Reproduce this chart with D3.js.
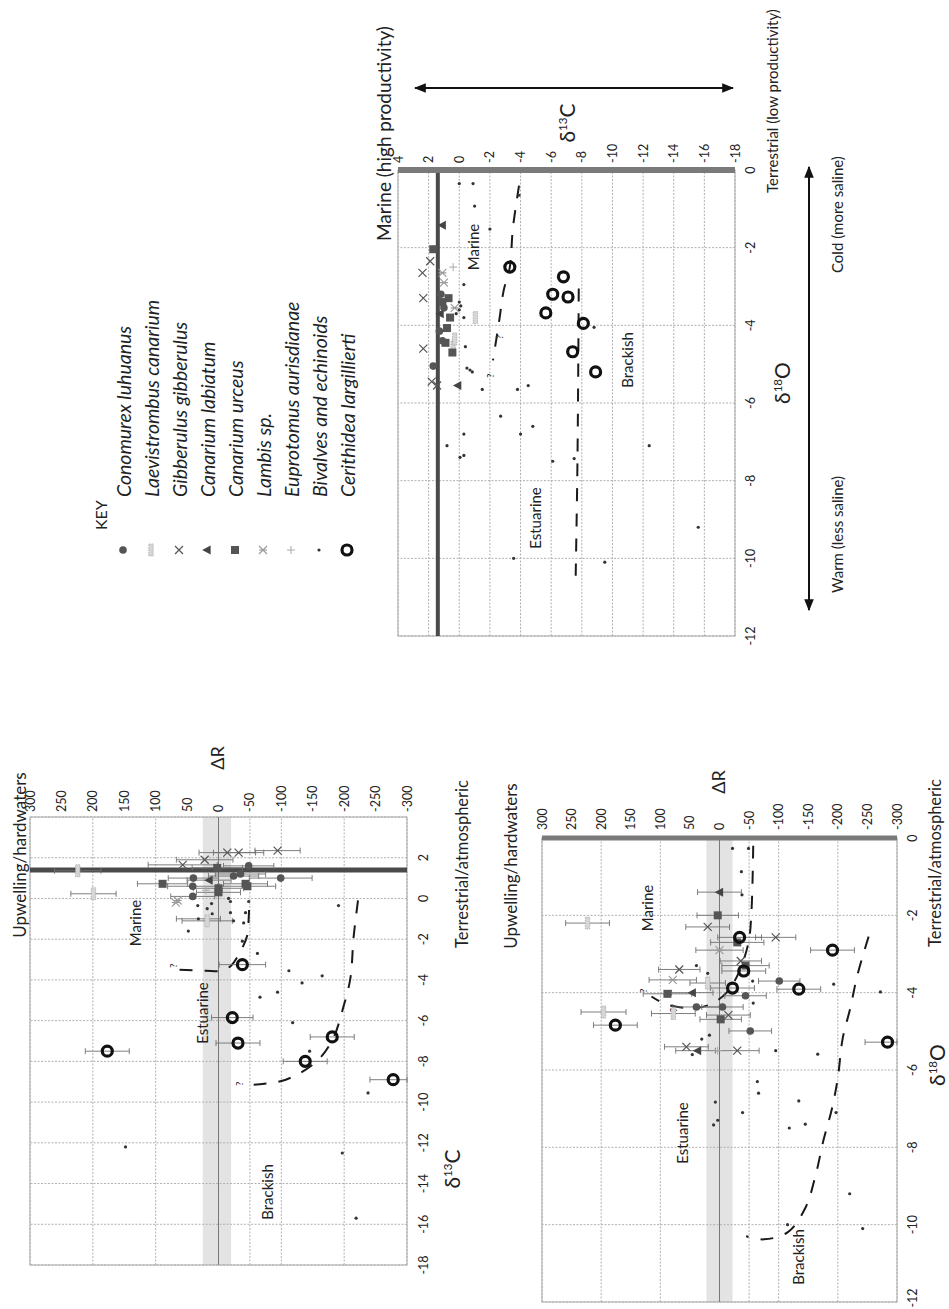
<!DOCTYPE html>
<html>
<head>
<meta charset="utf-8">
<script src="https://cdn.jsdelivr.net/npm/d3@7"></script>
<style>
  body { margin: 0; background: #fff; }
  text { font-family: Lato, "Open Sans", sans-serif; fill: #222; }
</style>
</head>
<body>
<svg id="fig" width="949" height="1309"></svg>
<script>
// ---- data ----
const speciesKeys = ["con", "lae", "gib", "lab", "urc", "lam", "eup", "biv", "cer"];
const speciesNames = ["Conomurex luhuanus", "Laevistrombus canarium", "Gibberulus gibberulus",
  "Canarium labiatum", "Canarium urceus", "Lambis sp.", "Euprotomus aurisdianae",
  "Bivalves and echinoids", "Cerithidea largillierti"];

const dRTicks = [300, 250, 200, 150, 100, 50, 0, -50, -100, -150, -200, -250, -300];
const dRGrid = [300, 200, 100, 0, -50, -100, -200, -300];
const d13CTicks = [4, 2, 0, -2, -4, -6, -8, -10, -12, -14, -16, -18];
const d18OTicks = [0, -2, -4, -6, -8, -10, -12];

// panel A: [species, d13C, dR, error]
const carbonDR = [
  ["gib", 2.25, -14, 45], ["gib", 2.25, -32, 40], ["gib", 2.35, -94, 36], ["gib", 1.9, 22, 45],
  ["gib", 1.65, 57, 55], ["con", 1.6, -48, 40], ["urc", 1.5, 2, 40], ["con", 1.0, -99, 50],
  ["urc", 0.72, 89, 40], ["urc", 0.72, -43, 35], ["con", 1.0, 40, 40], ["con", 0.6, 41, 40],
  ["con", 0.1, 41, 35], ["urc", 0.5, 0, 40], ["urc", 0.3, 0, 35], ["con", 1.2, -35, 40],
  ["con", 1.1, -24, 40], ["urc", 0.6, -46, 45], ["lab", 0.9, 15, 35], ["lam", -0.1, 65, 0],
  ["lam", -0.2, 68, 0], ["lae", 1.36, 224, 37], ["lae", 0.23, 199, 36], ["lae", -1.1, 18, 40],
  ["eup", 0.4, 20, 0],
  ["biv", -0.35, 33, 0], ["biv", -0.5, 18, 0], ["biv", -0.25, 11, 0], ["biv", 0.0, -16, 0],
  ["biv", -0.15, -19, 0], ["biv", -0.15, -48, 0], ["biv", -0.75, 10, 0], ["biv", -0.7, -19, 0],
  ["biv", -0.7, -43, 0], ["biv", -1.1, -24, 0], ["biv", -1.2, -40, 0], ["biv", -1.0, 32, 35],
  ["biv", -1.6, 48, 0], ["biv", -2.1, -38, 0], ["biv", -2.7, -62, 0], ["biv", -3.55, -112, 0],
  ["biv", -4.15, -133, 0], ["biv", -3.8, -165, 0], ["biv", -4.6, -94, 0], ["biv", -4.85, -66, 0],
  ["biv", -0.35, -191, 0], ["biv", -6.1, -118, 0], ["biv", -7.5, -145, 0], ["biv", -9.55, -238, 0],
  ["biv", -12.5, -197, 0], ["biv", -15.7, -219, 0], ["biv", -12.2, 148, 0],
  ["cer", -3.25, -38, 37], ["cer", -5.85, -22, 33], ["cer", -7.1, -31, 35], ["cer", -7.5, 177, 35],
  ["cer", -6.8, -181, 35], ["cer", -8.0, -138, 35], ["cer", -8.9, -278, 37]
];
const carbonMarineLine = [[-3.5, 62], [-3.55, 20], [-3.55, -5], [-3.3, -20], [-2.6, -35], [-1.8, -46], [-1.0, -48], [-0.2, -49]];
const carbonBrackishLine = [[-0.1, -222], [-1.9, -215], [-3.9, -210], [-5.3, -199], [-6.9, -182], [-8.0, -156], [-8.9, -107], [-9.15, -56]];
const carbonQueries = [[-3.3, 73], [-9.1, -32]];

// panel B: [species, d18O, dR, error]
const oxygenDR = [
  ["lab", -1.4, 0, 37], ["urc", -2.0, 3, 35], ["gib", -2.3, 20, 37], ["cer", -2.57, -34, 37],
  ["gib", -2.57, -95, 34], ["cer", -2.9, -191, 37], ["gib", -3.18, -36, 35], ["urc", -3.3, -44, 40],
  ["cer", -3.44, -41, 37], ["con", -3.7, -101, 35], ["cer", -3.91, -134, 37], ["cer", -3.88, -22, 37],
  ["urc", -4.03, 88, 41], ["lab", -4.0, 46, 35], ["gib", -3.4, 68, 35], ["lae", -2.2, 223, 37],
  ["lam", -3.67, 79, 40], ["lae", -3.75, 20, 30], ["lam", -2.9, 0, 40], ["urc", -2.7, -30, 45],
  ["con", -4.08, -44, 35], ["con", -4.37, 39, 40], ["con", -4.37, -5, 35], ["lae", -4.5, 196, 38],
  ["cer", -4.84, 176, 37], ["lae", -4.54, 78, 37], ["urc", -4.69, -2, 35], ["gib", -4.58, -15, 37],
  ["con", -4.99, -52, 36], ["gib", -5.4, 56, 37], ["lab", -5.5, 37, 37], ["gib", -5.5, -30, 37],
  ["eup", -5.5, 3, 0], ["cer", -5.28, -284, 38],
  ["biv", -0.27, -22, 0], ["biv", -0.27, -49, 0], ["biv", -0.87, -37, 0], ["biv", -1.47, -38, 0],
  ["biv", -3.78, -193, 0], ["biv", -3.98, -272, 0], ["biv", -3.3, 39, 0], ["biv", -3.5, 20, 0],
  ["biv", -3.7, -56, 0], ["biv", -4.27, -57, 0], ["biv", -5.2, 30, 0], ["biv", -5.1, 17, 0],
  ["biv", -5.6, 46, 0], ["biv", -5.5, -95, 0], ["biv", -5.59, -166, 0], ["biv", -6.3, -64, 0],
  ["biv", -6.6, -66, 0], ["biv", -6.83, 7, 0], ["biv", -7.1, -39, 0], ["biv", -6.8, -134, 0],
  ["biv", -7.5, -118, 0], ["biv", -7.4, -145, 0], ["biv", -7.42, 10, 0], ["biv", -7.3, 3, 0],
  ["biv", -7.1, -197, 0], ["biv", -9.2, -220, 0], ["biv", -10.1, -242, 0], ["biv", -10.0, -115, 0]
];
const oxygenMarineLine = [[-0.2, -57], [-1.9, -54], [-2.7, -49], [-3.5, -32], [-4.0, -12], [-4.3, 15], [-4.4, 45], [-4.3, 90], [-4.1, 115]];
const oxygenBrackishLine = [[-2.55, -252], [-3.55, -233], [-4.4, -221], [-5.2, -208], [-6.2, -200], [-7.0, -190],
  [-7.8, -176], [-8.75, -162], [-9.57, -145], [-10.2, -115], [-10.38, -75], [-10.3, -45]];
const oxygenQueries = [[-3.95, 130], [-4.45, 78]];

// panel C: [species, d18O, d13C]
const oxygenCarbon = [
  ["lab", -1.42, 1.11], ["lab", -3.7, 1.25], ["lab", -5.55, 0.1],
  ["urc", -2.04, 1.7], ["urc", -3.3, 0.7], ["urc", -3.4, 1.1], ["urc", -3.8, 0.6], ["urc", -4.07, 0.8],
  ["urc", -4.45, 0.9], ["urc", -4.7, 0.45],
  ["gib", -2.35, 1.9], ["gib", -2.65, 2.4], ["gib", -3.3, 2.35], ["gib", -4.6, 2.35], ["gib", -5.45, 1.8],
  ["gib", -5.55, 1.45],
  ["eup", -2.5, 0.4], ["lam", -2.65, 1.1], ["lam", -2.9, 1.0], ["lam", -3.55, 0.3],
  ["con", -3.55, 1.0], ["con", -4.15, 1.3], ["con", -4.4, 1.1], ["con", -5.05, 1.7], ["con", -3.2, 1.2],
  ["lae", -3.8, -1.05], ["lae", -4.55, 0.4], ["lae", -4.35, 0.3],
  ["biv", -3.4, 0.0], ["biv", -3.5, -0.1], ["biv", -3.6, 0.0], ["biv", -3.7, 0.2], ["biv", -3.8, -0.3],
  ["biv", -4.55, -0.4], ["biv", -5.1, -0.5], ["biv", -5.15, -0.7], ["biv", -5.2, -0.85],
  ["biv", -1.52, -2.0], ["biv", -0.93, -1.0], ["biv", -2.95, -0.3], ["biv", -0.35, 0.0],
  ["biv", -0.35, -0.9], ["biv", -0.65, -3.9], ["biv", -5.65, -1.5], ["biv", -5.65, -3.8],
  ["biv", -5.55, -4.5], ["biv", -4.05, -8.8], ["biv", -6.34, -2.7], ["biv", -6.6, -4.8],
  ["biv", -6.8, -4.0], ["biv", -6.8, -0.3], ["biv", -7.1, 0.8], ["biv", -7.4, -0.05],
  ["biv", -7.35, -0.3], ["biv", -7.5, -6.1], ["biv", -7.43, -7.5], ["biv", -7.1, -12.4],
  ["biv", -10.0, -3.55], ["biv", -10.1, -9.5], ["biv", -9.2, -15.6],
  ["cer", -2.5, -3.3], ["cer", -2.75, -6.8], ["cer", -3.2, -6.1], ["cer", -3.27, -7.1],
  ["cer", -3.68, -5.65], ["cer", -3.95, -8.1], ["cer", -4.68, -7.4], ["cer", -5.2, -8.9]
];
const ocMarineLine = [[-0.4, -3.9], [-1.5, -3.5], [-2.5, -3.3], [-3.1, -2.9], [-3.9, -2.6], [-4.9, -2.2]];
const ocBrackishLine = [[-3.05, -7.8], [-6.0, -7.75], [-8.0, -7.7], [-10.45, -7.6]];
const ocQueries = [[-4.3, -2.6], [-5.3, -2.0]];
const seawaterC = 1.4;   // thick reference line on d13C

// ---- page ----
const svg = d3.select('#fig');
const WIDTH = +svg.attr('width'), HEIGHT = +svg.attr('height');
// the figure is a landscape page turned a quarter to the left
const page = svg.append('g').attr('transform', `translate(0,${HEIGHT}) rotate(-90)`);

svg.append('defs').append('marker')
  .attr('id', 'arrow').attr('viewBox', '0 0 10 10').attr('refX', 9).attr('refY', 5)
  .attr('markerWidth', 6).attr('markerHeight', 6).attr('orient', 'auto-start-reverse')
  .append('path').attr('d', 'M0,1 L10,5 L0,9 Z').attr('fill', '#111');

const TICK = 12.5;

let label = (g, x, y, str, size, anchor, extra) => {
  let t = g.append('text').attr('x', x).attr('y', y).attr('font-size', size)
    .attr('text-anchor', anchor || 'middle').attr('dominant-baseline', 'central').text(str);
  if (extra) t.style('font-style', extra);
  return t;
}

let isoLabel = (g, x, y, mass, el, size) => {
  let t = g.append('text').attr('x', x).attr('y', y + size * 0.35)
    .attr('font-size', size).attr('text-anchor', 'middle');
  t.append('tspan').text('δ');
  t.append('tspan').attr('dy', -size * 0.42).attr('font-size', size * 0.55).text(mass);
  t.append('tspan').attr('dy', size * 0.42).text(el);
}

let drawMark = (g, sp, x, y) => {
  switch (sp) {
    case 'con':
      g.append('circle').attr('cx', x).attr('cy', y).attr('r', 3.8).attr('fill', '#555'); break;
    case 'lae':
      g.append('rect').attr('x', x - 6).attr('y', y - 2.2).attr('width', 12).attr('height', 4.4)
        .attr('fill', '#d6d6d6').attr('stroke', '#aaa').attr('stroke-width', 0.8)
        .attr('stroke-dasharray', '1.5,1'); break;
    case 'gib':
      g.append('path').attr('d', `M${x-4},${y-4}L${x+4},${y+4}M${x-4},${y+4}L${x+4},${y-4}`)
        .attr('stroke', '#555').attr('stroke-width', 1.2); break;
    case 'lab':
      g.append('path').attr('d', `M${x},${y-4.8}L${x+4.5},${y+3.6}L${x-4.5},${y+3.6}Z`).attr('fill', '#444'); break;
    case 'urc':
      g.append('rect').attr('x', x - 4).attr('y', y - 4).attr('width', 8).attr('height', 8).attr('fill', '#555'); break;
    case 'lam':
      g.append('path').attr('d', `M${x-4},${y-4}L${x+4},${y+4}M${x-4},${y+4}L${x+4},${y-4}M${x},${y-4}L${x},${y+4}`)
        .attr('stroke', '#9a9a9a').attr('stroke-width', 1.1); break;
    case 'eup':
      g.append('path').attr('d', `M${x-4},${y}L${x+4},${y}M${x},${y-4}L${x},${y+4}`)
        .attr('stroke', '#aaa').attr('stroke-width', 1); break;
    case 'biv':
      g.append('circle').attr('cx', x).attr('cy', y).attr('r', 1.6).attr('fill', '#333'); break;
    case 'cer':
      g.append('circle').attr('cx', x).attr('cy', y).attr('r', 5).attr('fill', 'none')
        .attr('stroke', '#111').attr('stroke-width', 3.2); break;
  }
}

let drawGrid = (g, x, y, xGrid, yGrid) => {
  let [x0, x1] = x.range(), [y0, y1] = y.range();
  g.append('g').selectAll('line').data(xGrid).enter().append('line')
    .attr('x1', d => x(d)).attr('x2', d => x(d)).attr('y1', y0).attr('y2', y1)
    .attr('stroke', '#b0b0b0').attr('stroke-dasharray', '2,1.5');
  g.append('g').selectAll('line').data(yGrid).enter().append('line')
    .attr('y1', d => y(d)).attr('y2', d => y(d)).attr('x1', x0).attr('x2', x1)
    .attr('stroke', '#b0b0b0').attr('stroke-dasharray', '2,1.5');
  g.append('rect').attr('x', x0).attr('y', y1).attr('width', x1 - x0).attr('height', y0 - y1)
    .attr('fill', 'none').attr('stroke', '#aaa');
}

let drawBoundary = (g, pts, x, y) => {
  g.append('path').datum(pts)
    .attr('d', d3.line().x(d => x(d[0])).y(d => y(d[1])).curve(d3.curveCatmullRom))
    .attr('fill', 'none').attr('stroke', '#1a1a1a').attr('stroke-width', 2)
    .attr('stroke-dasharray', '13,12');
}

let drawQueries = (g, pts, x, y) => {
  g.selectAll('.q').data(pts).enter().append('text').attr('class', 'q')
    .attr('x', d => x(d[0])).attr('y', d => y(d[1])).attr('font-size', 10)
    .attr('text-anchor', 'middle').attr('dominant-baseline', 'central').text('?');
}

let drawPoints = (g, data, x, y, withErr) => {
  let [lo, hi] = y.domain();
  if (withErr) {
    let bars = g.append('g').attr('stroke', '#707070').attr('stroke-width', 0.9);
    data.filter(d => d[3] > 0).forEach(d => {
      let px = x(d[1]);
      let ya = y(Math.min(hi, d[2] + d[3])), yb = y(Math.max(lo, d[2] - d[3]));
      bars.append('line').attr('x1', px).attr('x2', px).attr('y1', ya).attr('y2', yb);
      bars.append('line').attr('x1', px - 3).attr('x2', px + 3).attr('y1', ya).attr('y2', ya);
      bars.append('line').attr('x1', px - 3).attr('x2', px + 3).attr('y1', yb).attr('y2', yb);
    });
  }
  let order = ['biv', 'eup', 'lam', 'lae', 'gib', 'lab', 'urc', 'con', 'cer'];
  order.forEach(sp => data.filter(d => d[0] === sp).forEach(d => drawMark(g, sp, x(d[1]), y(d[2]))));
}

// ---- panel A : dR against d13C ----
const gA = page.append('g');
const xA = d3.scaleLinear().domain([-18, 4]).range([44, 492]);
const yA = d3.scaleLinear().domain([-300, 300]).range([407, 30]);
gA.append('rect').attr('x', 44).attr('width', 448).attr('y', yA(25)).attr('height', yA(-20) - yA(25)).attr('fill', '#e3e3e3');
drawGrid(gA, xA, yA, d13CTicks, dRGrid);
gA.append('line').attr('x1', 44).attr('x2', 492).attr('y1', yA(0)).attr('y2', yA(0)).attr('stroke', '#777');
gA.append('line').attr('x1', xA(seawaterC)).attr('x2', xA(seawaterC)).attr('y1', 30).attr('y2', 407)
  .attr('stroke', '#4a4a4a').attr('stroke-width', 5);
drawBoundary(gA, carbonMarineLine, xA, yA);
drawBoundary(gA, carbonBrackishLine, xA, yA);
drawQueries(gA, carbonQueries, xA, yA);
drawPoints(gA, carbonDR, xA, yA, true);
dRTicks.forEach(t => label(gA, 497, yA(t), t, TICK, 'start'));
d13CTicks.filter(t => t < 4).forEach(t => label(gA, xA(t), 423, t, TICK));
label(gA, 551, 217, 'ΔR', 18);
label(gA, 454, 19, 'Upwelling/hardwaters', 17);
label(gA, 445, 462, 'Terrestrial/atmospheric', 16.5);
isoLabel(gA, 140, 453, '13', 'C', 21);
label(gA, 386, 135, 'Marine', 15);
label(gA, 296, 202, 'Estuarine', 15);
label(gA, 117, 267, 'Brackish', 15);

// ---- panel B : dR against d18O ----
const gB = page.append('g');
const xB = d3.scaleLinear().domain([-12, 0]).range([7, 471]);
const yB = d3.scaleLinear().domain([-300, 300]).range([897, 542]);
gB.append('rect').attr('x', 7).attr('width', 464).attr('y', yB(22)).attr('height', yB(-22) - yB(22)).attr('fill', '#e3e3e3');
drawGrid(gB, xB, yB, d18OTicks, dRGrid);
gB.append('line').attr('x1', 7).attr('x2', 471).attr('y1', yB(0)).attr('y2', yB(0)).attr('stroke', '#777');
gB.append('line').attr('x1', xB(0)).attr('x2', xB(0)).attr('y1', 542).attr('y2', 897)
  .attr('stroke', '#7a7a7a').attr('stroke-width', 5);
drawBoundary(gB, oxygenMarineLine, xB, yB);
drawBoundary(gB, oxygenBrackishLine, xB, yB);
drawQueries(gB, oxygenQueries, xB, yB);
drawPoints(gB, oxygenDR, xB, yB, true);
dRTicks.forEach(t => label(gB, 479, yB(t), t, TICK, 'start'));
// the last label sits on the page edge, keep it inside
d18OTicks.forEach(t => label(gB, Math.max(xB(t), 11), 912, t, TICK));
label(gB, 527, 718, 'ΔR', 18);
label(gB, 443, 510, 'Upwelling/hardwaters', 17);
label(gB, 446, 935, 'Terrestrial/atmospheric', 16.5);
isoLabel(gB, 244, 938, '18', 'O', 21);
label(gB, 401, 647, 'Marine', 15);
label(gB, 176, 682, 'Estuarine', 15);
label(gB, 52, 798, 'Brackish', 15);

// ---- panel C : d13C against d18O ----
const gC = page.append('g');
const xC = d3.scaleLinear().domain([-12, 0]).range([673, 1139]);
const yC = d3.scaleLinear().domain([-18, 4]).range([735, 398]);
drawGrid(gC, xC, yC, d18OTicks, d13CTicks);
gC.append('line').attr('x1', 673).attr('x2', 1139).attr('y1', yC(seawaterC)).attr('y2', yC(seawaterC))
  .attr('stroke', '#4a4a4a').attr('stroke-width', 4);
gC.append('line').attr('x1', xC(0)).attr('x2', xC(0)).attr('y1', 398).attr('y2', 735)
  .attr('stroke', '#7a7a7a').attr('stroke-width', 6);
drawBoundary(gC, ocMarineLine, xC, yC);
drawBoundary(gC, ocBrackishLine, xC, yC);
drawQueries(gC, ocQueries, xC, yC);
drawPoints(gC, oxygenCarbon, xC, yC, false);
d13CTicks.forEach(t => label(gC, 1146, yC(t), t, TICK, 'start'));
d18OTicks.forEach(t => label(gC, xC(t), 750, t, TICK));
isoLabel(gC, 1186, 568, '13', 'C', 21);
isoLabel(gC, 926, 783, '18', 'O', 21);
label(gC, 1068, 383, 'Marine (high productivity)', 19, 'start');
label(gC, 1116, 772, 'Terrestrial (low productivity)', 15, 'start');
gC.append('line').attr('x1', 1221).attr('x2', 1221).attr('y1', 415).attr('y2', 733)
  .attr('stroke', '#111').attr('stroke-width', 2)
  .attr('marker-start', 'url(#arrow)').attr('marker-end', 'url(#arrow)');
gC.append('line').attr('x1', 699).attr('x2', 1142).attr('y1', 809).attr('y2', 809)
  .attr('stroke', '#111').attr('stroke-width', 2)
  .attr('marker-start', 'url(#arrow)').attr('marker-end', 'url(#arrow)');
label(gC, 1036, 837, 'Cold (more saline)', 15, 'start');
label(gC, 716, 837, 'Warm (less saline)', 15, 'start');
label(gC, 1062, 473, 'Marine', 15);
label(gC, 949, 627, 'Brackish', 15);
label(gC, 791, 535, 'Estuarine', 15);

// ---- key ----
const gK = page.append('g');
label(gK, 779, 100, 'KEY', 16, 'start');
speciesKeys.forEach((sp, i) => {
  let v = 123 + i * 28;
  drawMark(gK, sp, 759, v);
  label(gK, 812, v, speciesNames[i], 19.5, 'start', 'italic');
});
</script>
</body>
</html>
